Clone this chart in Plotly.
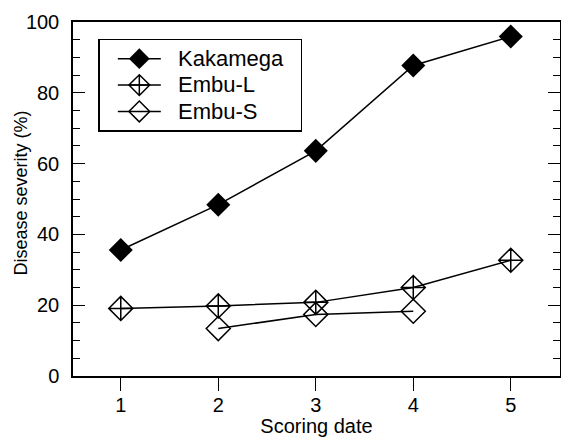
import plotly.graph_objects as go

dates = [1, 2, 3, 4, 5]
kakamega = [35.6, 48.4, 63.6, 87.7, 95.9]
embu_l = [19.1, 19.8, 20.8, 25.0, 32.7]
embu_s_dates = [2, 3, 4]
embu_s = [13.4, 17.4, 18.3]
x_ticks = [1, 2, 3, 4, 5]
y_ticks = [0, 20, 40, 60, 80, 100]
series_names = ["Kakamega", "Embu-L", "Embu-S"]
x_title = "Scoring date"
y_title = "Disease severity (%)"

FONT = "Liberation Sans, Arial, Helvetica, sans-serif"


def legend_label(s):
    return '<span style="font-size:22px">\u00a0\u00a0' + s + '\u00a0\u00a0</span>'


fig = go.Figure()
line = dict(color="black", width=1.5)
fig.add_trace(go.Scatter(x=dates, y=kakamega, name=legend_label(series_names[0]), mode="lines+markers",
                         line=line, marker=dict(symbol="diamond", size=18.5, color="black")))
fig.add_trace(go.Scatter(x=dates, y=embu_l, name=legend_label(series_names[1]), mode="lines+markers",
                         line=line, marker=dict(symbol="diamond-cross-open", size=18.5, color="black",
                                                line=dict(width=1.5, color="black"))))
fig.add_trace(go.Scatter(x=embu_s_dates, y=embu_s, name=legend_label(series_names[2]), mode="lines+markers",
                         line=line, marker=dict(symbol="diamond-open", size=18.5, color="black",
                                                line=dict(width=1.5, color="black"))))

fig.update_layout(
    width=561, height=437,
    margin=dict(l=73, r=1, t=22, b=61, autoexpand=False),
    paper_bgcolor="white", plot_bgcolor="white",
    font=dict(family=FONT, size=20, color="black"),
    showlegend=True,
    legend=dict(x=0.052, y=0.952, xanchor="left", yanchor="top",
                bgcolor="white", bordercolor="black", borderwidth=1.5,
                font=dict(size=18, family=FONT), itemwidth=43, indentation=13,
                tracegroupgap=0),
    annotations=[dict(text=y_title, xref="paper", yref="paper", x=-0.1068, y=0.518,
                      xanchor="center", yanchor="middle", textangle=-90, showarrow=False,
                      font=dict(size=18, family=FONT, color="black"))],
)
fig.update_xaxes(range=[0.51, 5.505], tickvals=x_ticks, ticktext=[str(v) for v in x_ticks],
                 ticks="outside", ticklen=13, tickwidth=1, tickcolor="black",
                 showline=True, linecolor="black", linewidth=1.5, mirror=True,
                 showgrid=False, zeroline=False, ticklabelstandoff=-3,
                 title=dict(text=x_title, font=dict(size=20), standoff=7),
                 tickfont=dict(size=20))
fig.update_yaxes(range=[0, 100], tickvals=y_ticks, ticks="inside", ticklen=12, tickwidth=1,
                 tickcolor="black", showline=True, linecolor="black", linewidth=1.5,
                 mirror="ticks", showgrid=False, zeroline=False,
                 minor=dict(dtick=5, ticks="inside", ticklen=7, tickwidth=1, tickcolor="black", showgrid=False),
                 ticklabelstandoff=8,
                 tickfont=dict(size=20))
fig.write_html("out.html")
